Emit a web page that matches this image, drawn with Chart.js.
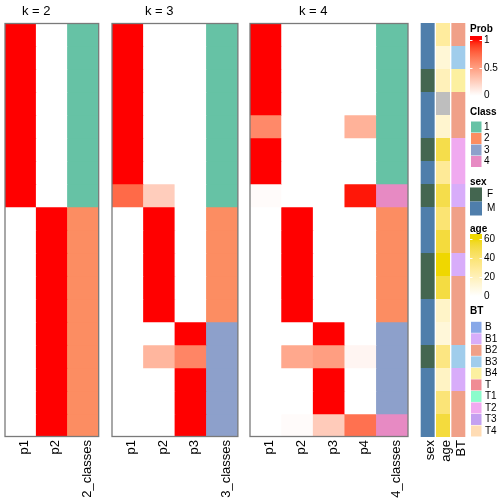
<!DOCTYPE html>
<html><head><meta charset="utf-8">
<script src="https://cdn.jsdelivr.net/npm/chart.js@4/dist/chart.umd.min.js"></script>
<style>
html,body{margin:0;padding:0;background:#fff;width:504px;height:504px;overflow:hidden;}
canvas{position:absolute;top:0;}
</style></head><body>
<canvas id="k2"></canvas>
<canvas id="k3"></canvas>
<canvas id="k4"></canvas>
<canvas id="ann"></canvas>
<script>
// ---------------- data ----------------
const rowsN = 18;

const k2Labels = ['p1','p2','2_classes'];
const k2P1 = [1,1,1,1,1,1,1,1,0,0,0,0,0,0,0,0,0,0];
const k2P2 = [0,0,0,0,0,0,0,0,1,1,1,1,1,1,1,1,1,1];
const k2Class = [1,1,1,1,1,1,1,1,2,2,2,2,2,2,2,2,2,2];

const k3Labels = ['p1','p2','p3','3_classes'];
const k3P1 = [1,1,1,1,1,1,1,0.74,0,0,0,0,0,0,0,0,0,0];
const k3P2 = [0,0,0,0,0,0,0,0.26,1,1,1,1,1,0,0.38,0,0,0];
const k3P3 = [0,0,0,0,0,0,0,0,0,0,0,0,0,1,0.62,1,1,1];
const k3Class = [1,1,1,1,1,1,1,1,2,2,2,2,2,3,3,3,3,3];

const k4Labels = ['p1','p2','p3','p4','4_classes'];
const k4P1 = [1,1,1,1,0.6,1,1,0.02,0,0,0,0,0,0,0,0,0,0];
const k4P2 = [0,0,0,0,0,0,0,0,1,1,1,1,1,0,0.45,0,0,0.02];
const k4P3 = [0,0,0,0,0,0,0,0,0,0,0,0,0,1,0.5,1,1,0.27];
const k4P4 = [0,0,0,0,0.4,0,0,0.98,0,0,0,0,0,0,0.05,0,0,0.71];
const k4Class = [1,1,1,1,1,1,1,4,2,2,2,2,2,3,3,3,3,4];

const annLabels = ['sex','age','BT'];
const sex = ['M','M','F','M','M','F','M','F','M','M','F','F','M','M','F','M','M','M'];
const age = [28,12,20,null,14,50,30,50,40,53,60,52,16,11,36,17,39,53];
const bt = ['B2','B3','B4','B2','B2','T2','T2','B1','B2','B2','B1','B2','B2','B2','B3','B1','B2','B2'];

const probTicks = [0, 0.5, 1];
const ageTicks = [0, 20, 40, 60];
const classLevels = [1,2,3,4];
const sexLevels = ['F','M'];
const btLevels = ['B','B1','B2','B3','B4','T','T1','T2','T3','T4'];

// ---------------- colours ----------------
const classColors = {1:'#66C2A5',2:'#FC8D62',3:'#8DA0CB',4:'#E78AC3'};
const sexColors = {F:'#446650', M:'#4F7EAB'};
const btColors = {B:'#88A8E8',B1:'#D8ADFA',B2:'#F0A088',B3:'#A0CDEC',B4:'#FCF0A0',
                  T:'#F08C94',T1:'#8CFCCC',T2:'#F0AAF0',T3:'#C4A0F0',T4:'#FFDCB4'};

function hexToRgb(h){h=h.replace('#','');return [0,2,4].map(i=>parseInt(h.substr(i,2),16));}
function lin(c){c/=255;return c<=0.04045?c/12.92:Math.pow((c+0.055)/1.055,2.4);}
function delin(c){c=c<=0.0031308?12.92*c:1.055*Math.pow(c,1/2.4)-0.055;return Math.round(Math.max(0,Math.min(1,c))*255);}
const Xn=0.95047,Yn=1,Zn=1.08883;
function fl(t){return t>0.008856?Math.cbrt(t):7.787*t+16/116;}
function finv(t){return t>0.206893?t*t*t:(t-16/116)/7.787;}
function toLab(hex){const [r,g,b]=hexToRgb(hex).map(lin);
  const X=0.4124*r+0.3576*g+0.1805*b,Y=0.2126*r+0.7152*g+0.0722*b,Z=0.0193*r+0.1192*g+0.9505*b;
  const fx=fl(X/Xn),fy=fl(Y/Yn),fz=fl(Z/Zn);return [116*fy-16,500*(fx-fy),200*(fy-fz)];}
function fromLab(l){const fy=(l[0]+16)/116,fx=fy+l[1]/500,fz=fy-l[2]/200;
  const X=Xn*finv(fx),Y=Yn*finv(fy),Z=Zn*finv(fz);
  const r=3.2406*X-1.5372*Y-0.4986*Z,g=-0.9689*X+1.8758*Y+0.0415*Z,b=0.0557*X-0.2040*Y+1.0570*Z;
  return 'rgb('+delin(r)+','+delin(g)+','+delin(b)+')';}
function ramp(c0,c1){const a=toLab(c0),b=toLab(c1);return t=>{t=Math.max(0,Math.min(1,t));return fromLab(a.map((v,i)=>v+(b[i]-v)*t));};}
const probColor = ramp('#FFFFFF','#FF0000');
const ageRamp = ramp('#FFFFFF','#EFD700');
const ageColor = v => v==null ? '#BEBEBE' : ageRamp(v/60);

Chart.defaults.font.family = "'Liberation Sans', Arial, Helvetica, sans-serif";
Chart.defaults.color = '#000';

// 18 rows x 23 px -> whole-pixel row boundaries
const TOP = 23, BOTTOM = 437, H = 504;

const borderPlugin = {id:'panelBorder', afterDraw(chart){
  const a=chart.chartArea, ctx=chart.ctx; ctx.save();
  ctx.strokeStyle='#7a7a7a'; ctx.lineWidth=1.3;
  ctx.strokeRect(a.left, a.top+0.5, a.right-a.left, a.bottom-a.top-1); ctx.restore();}};

function titlePlugin(text){return {id:'panelTitle', afterDraw(chart){
  const xs=chart.scales.x, n=chart.data.labels.length, ctx=chart.ctx;
  const c=(xs.getPixelForValue(0)+xs.getPixelForValue(n-2))/2;
  ctx.save(); ctx.fillStyle='#000'; ctx.font="13px 'Liberation Sans', Arial, sans-serif";
  ctx.textAlign='center'; ctx.textBaseline='middle'; ctx.fillText(text, c, 11); ctx.restore();}};}

function baseOptions(padL, padR){
  return {responsive:false, animation:false, events:[],
    layout:{padding:{left:padL,right:padR,top:TOP,bottom:0}},
    plugins:{legend:{display:false}, tooltip:{enabled:false}},
    scales:{
      x:{stacked:true, grid:{display:false,drawTicks:false}, border:{display:false},
         ticks:{autoSkip:false,minRotation:90,maxRotation:90,padding:3,labelOffset:4,color:'#000',font:{size:13}},
         afterFit:s=>{s.height=H-BOTTOM;}},
      y:{stacked:true, display:false, min:0, max:rowsN, reverse:true}
    }};
}

function rowDatasets(labels, columns, barPct){
  const ds=[];
  for(let r=0;r<rowsN;r++){
    ds.push({data:labels.map(()=>1), backgroundColor:columns.map(c=>c[r]),
      borderWidth:0, categoryPercentage:1, barPercentage:barPct});
  }
  return ds;
}

function makePanel(id, left, width, labels, columns, title){
  const cv=document.getElementById(id);
  cv.width=width+4; cv.height=H; cv.style.left=(left-2)+'px';
  new Chart(cv,{type:'bar',data:{labels,datasets:rowDatasets(labels,columns,1)},options:baseOptions(2,2),
    plugins:[borderPlugin,titlePlugin(title)]});
}

makePanel('k2',5,95,k2Labels,[k2P1.map(probColor),k2P2.map(probColor),k2Class.map(c=>classColors[c])],'k = 2');
makePanel('k3',112,127,k3Labels,[k3P1.map(probColor),k3P2.map(probColor),k3P3.map(probColor),k3Class.map(c=>classColors[c])],'k = 3');
makePanel('k4',250,159,k4Labels,[k4P1.map(probColor),k4P2.map(probColor),k4P3.map(probColor),k4P4.map(probColor),k4Class.map(c=>classColors[c])],'k = 4');

// ---------------- annotations + legends ----------------
const ANN_LEFT = 418;
const legendPlugin = {id:'legends', afterDraw(chart){
  const ctx=chart.ctx; const X=x=>x-ANN_LEFT; ctx.save();
  const titleFont="bold 10px 'Liberation Sans', Arial, sans-serif";
  const labFont="10px 'Liberation Sans', Arial, sans-serif";
  function ttl(t,y){ctx.font=titleFont;ctx.fillStyle='#000';ctx.textAlign='left';ctx.textBaseline='middle';ctx.fillText(t,X(470),y);}
  function lab(t,x,y){ctx.font=labFont;ctx.fillStyle='#000';ctx.textAlign='left';ctx.textBaseline='middle';ctx.fillText(String(t),X(x),y);}
  function gradBar(y0,y1,vmin,vmax,yOf,colorOf,ticks){
    const g=ctx.createLinearGradient(0,y0,0,y1);
    for(let i=0;i<=40;i++){const y=y0+(y1-y0)*i/40; const v=yOf.inv(y);
      g.addColorStop(i/40,colorOf(Math.max(vmin,Math.min(vmax,v))));}
    ctx.fillStyle=g; ctx.fillRect(X(470),y0,12,y1-y0);
    ctx.strokeStyle='#fff'; ctx.lineWidth=1;
    ticks.forEach(v=>{const y=Math.round(yOf(v))+0.5;
      ctx.beginPath();ctx.moveTo(X(470),y);ctx.lineTo(X(472.5),y);ctx.moveTo(X(479.5),y);ctx.lineTo(X(482),y);ctx.stroke();
      lab(v,484,yOf(v));});
  }
  ttl('Prob',29);
  const pY=v=>95.7-v*55.7; pY.inv=y=>(95.7-y)/55.7;
  gradBar(36,99,0,1,pY,probColor,probTicks);
  ttl('Class',112.7);
  classLevels.forEach((c,i)=>{const cy=127+i*11.5; ctx.fillStyle=classColors[c]; ctx.fillRect(X(471),cy-5.5,10.5,11); lab(c,484,cy);});
  ttl('sex',182);
  sexLevels.forEach((s,i)=>{const cy=194.5+i*14; ctx.fillStyle=sexColors[s]; ctx.fillRect(X(470),cy-7,12,14); lab(s,487,cy);});
  ttl('age',229);
  const aY=v=>296.3-v*0.9483; aY.inv=y=>(296.3-y)/0.9483;
  gradBar(234,299,0,60,aY,v=>ageColor(v),ageTicks);
  ttl('BT',311.7);
  btLevels.forEach((b,i)=>{const cy=327.3+i*11.52; ctx.fillStyle=btColors[b]; ctx.fillRect(X(471),cy-5.5,10.5,11); lab(b,485,cy);});
  ctx.restore();
}};

(function(){
  const cv=document.getElementById('ann');
  cv.width=504-ANN_LEFT; cv.height=H; cv.style.left=ANN_LEFT+'px';
  const cols=[sex.map(s=>sexColors[s]), age.map(ageColor), bt.map(b=>btColors[b])];
  const opts=baseOptions(2,38);
  opts.scales.x.ticks.labelOffset=3;
  new Chart(cv,{type:'bar',data:{labels:annLabels,datasets:rowDatasets(annLabels,cols,0.91)},options:opts,plugins:[legendPlugin]});
})();
</script>
</body></html>
